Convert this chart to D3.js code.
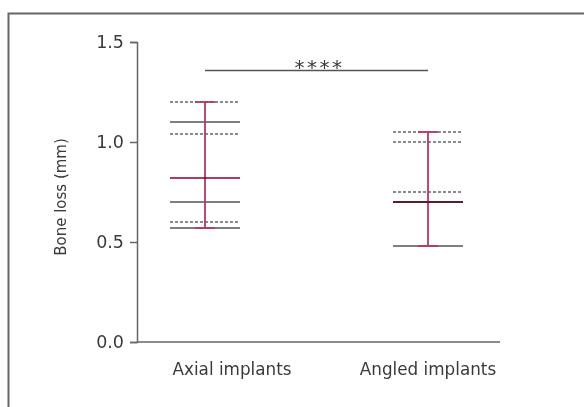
<!DOCTYPE html>
<html>
<head>
<meta charset="utf-8">
<script src="https://cdn.jsdelivr.net/npm/d3@7"></script>
<style>
  html, body { margin: 0; padding: 0; background: #fff; }
  svg { display: block; }
  text { font-family: "DejaVu Sans", sans-serif; fill: #3a3a3a; }
</style>
</head>
<body>
<svg id="chart" width="584" height="407"></svg>
<script>
// Groups compared
const categories = ["Axial implants", "Angled implants"];
// Mean bone loss (mm)
const meanValues = [0.82, 0.70];
// Whisker range (min, max)
const whiskerLow = [0.57, 0.48];
const whiskerHigh = [1.20, 1.05];
// Solid reference lines per group
const solidLines = [[1.10, 0.70, 0.57], [0.70, 0.48]];
// Dotted reference lines per group
const dottedLines = [[1.20, 1.04, 0.60], [1.05, 1.00, 0.75]];
// Y axis ticks
const yTicks = [0.0, 0.5, 1.0, 1.5];
const sigLabel = "****";

const svg = d3.select("#chart");
const red = "#b23a5e";
const gray = "#555";

// Outer frame
svg.append("rect")
  .attr("x", 8.5).attr("y", 13.5)
  .attr("width", 600).attr("height", 420)
  .attr("fill", "none").attr("stroke", "#666").attr("stroke-width", 2);

const y = d3.scaleLinear().domain([0, 1.5]).range([342, 42]);
const x = d3.scalePoint().domain(categories).range([205, 428]);
const labelShift = [27, 0];

const halfW = 35, capW = 10;

// Y axis
const yAxis = svg.append("g")
  .attr("transform", "translate(137,0)")
  .call(d3.axisLeft(y).tickValues(yTicks).tickFormat(d3.format(".1f")).tickSize(7).tickPadding(6));
yAxis.select(".domain").attr("stroke", "#666").attr("stroke-width", 1.5);
yAxis.selectAll(".tick line").attr("stroke", "#666").attr("stroke-width", 1.5);
yAxis.selectAll(".tick text")
  .style("font-family", "DejaVu Sans, sans-serif").style("font-size", "17.5px").attr("fill", "#444");

// X axis baseline
svg.append("line")
  .attr("x1", 137).attr("x2", 500)
  .attr("y1", y(0)).attr("y2", y(0))
  .attr("stroke", "#666").attr("stroke-width", 1.5);

// Category labels
svg.selectAll("text.cat").data(categories).join("text")
  .attr("class", "cat")
  .attr("x", (d, i) => x(d) + labelShift[i])
  .attr("y", 375)
  .attr("text-anchor", "middle")
  .style("font-size", "16.8px")
  .text(d => d);

// Y axis title
svg.append("text")
  .attr("transform", "translate(66,197) rotate(-90)")
  .attr("text-anchor", "middle")
  .style("font-size", "15px")
  .text("Bone loss (mm)");

const groups = svg.selectAll("g.grp").data(categories).join("g").attr("class", "grp");

groups.each(function(cat, i) {
  const g = d3.select(this);
  const cx = x(cat);

  // dotted lines
  g.selectAll("line.dot").data(dottedLines[i]).join("line")
    .attr("x1", cx - halfW).attr("x2", cx + halfW)
    .attr("y1", d => y(d)).attr("y2", d => y(d))
    .attr("stroke", "#666").attr("stroke-width", 1.6)
    .attr("stroke-dasharray", "3,2");

  // solid lines
  g.selectAll("line.sol").data(solidLines[i]).join("line")
    .attr("x1", cx - halfW).attr("x2", cx + halfW)
    .attr("y1", d => y(d)).attr("y2", d => y(d))
    .attr("stroke", gray).attr("stroke-width", 1.6);

  // whisker
  g.append("line")
    .attr("x1", cx).attr("x2", cx)
    .attr("y1", y(whiskerLow[i])).attr("y2", y(whiskerHigh[i]))
    .attr("stroke", red).attr("stroke-width", 1.8);
  [whiskerLow[i], whiskerHigh[i]].forEach(v => {
    g.append("line")
      .attr("x1", cx - capW).attr("x2", cx + capW)
      .attr("y1", y(v)).attr("y2", y(v))
      .attr("stroke", red).attr("stroke-width", 1.8);
  });

  // mean
  g.append("line")
    .attr("x1", cx - halfW).attr("x2", cx + halfW)
    .attr("y1", y(meanValues[i])).attr("y2", y(meanValues[i]))
    .attr("stroke", red).attr("stroke-width", 1.8)
    .style("mix-blend-mode", "multiply");
});

// Significance bracket
svg.append("line")
  .attr("x1", x(categories[0])).attr("x2", x(categories[1]))
  .attr("y1", 70.5).attr("y2", 70.5)
  .attr("stroke", "#555").attr("stroke-width", 1.5);
svg.append("text")
  .attr("x", (x(categories[0]) + x(categories[1])) / 2 + 3)
  .attr("y", 74)
  .attr("text-anchor", "middle")
  .style("font-size", "20px")
  .style("letter-spacing", "2.5px")
  .text(sigLabel);
</script>
</body>
</html>
